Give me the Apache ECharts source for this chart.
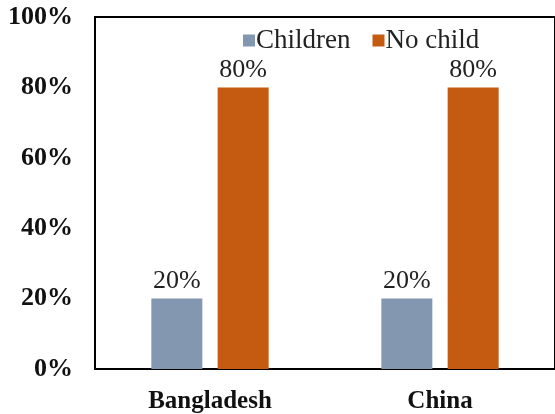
<!DOCTYPE html>
<html>
<head>
<meta charset="utf-8">
<script src="https://cdn.jsdelivr.net/npm/echarts@6/dist/echarts.min.js"></script>
<style>html,body{margin:0;padding:0;background:#fff}#c{width:555px;height:414px}</style>
</head>
<body>
<div id="c"></div>
<script>
const categories = ['Bangladesh', 'China'];
const seriesNames = ['Children', 'No child'];
const childrenValues = [0.2, 0.2];
const noChildValues = [0.8, 0.8];
const yTicks = [0, 0.2, 0.4, 0.6, 0.8, 1.0];

const serif = 'Liberation Serif';
const pct = v => Math.round(v * 100) + '%';

const chart = echarts.init(document.getElementById('c'));
chart.setOption({
  animation: false,
  backgroundColor: '#fff',
  textStyle: { fontFamily: serif },
  grid: { left: 95, right: -4, top: 17, bottom: 45, show: true, borderColor: '#000', borderWidth: 2, backgroundColor: 'transparent' },
  legend: {
    data: seriesNames,
    left: 238, top: 22,
    itemWidth: 12, itemHeight: 12, itemGap: 22,
    icon: 'rect',
    textStyle: { fontFamily: serif, fontSize: 27, color: '#222', padding: [0, 0, 0, -4] }
  },
  xAxis: {
    type: 'category',
    data: categories,
    axisLine: { lineStyle: { color: '#000', width: 2 } },
    axisTick: { show: false },
    axisLabel: { fontFamily: serif, fontWeight: 'bold', fontSize: 25, color: '#111', margin: 20 }
  },
  yAxis: {
    type: 'value', min: 0, max: 1, interval: 0.2,
    axisLine: { show: true, lineStyle: { color: '#000', width: 2 } },
    axisTick: { show: false },
    splitLine: { show: false },
    axisLabel: { fontFamily: serif, fontWeight: 'bold', fontSize: 26, color: '#111', margin: 22,
      formatter: v => yTicks.some(t => Math.abs(t - v) < 1e-9) ? pct(v) : '' }
  },
  series: [
    { name: seriesNames[0], type: 'bar', data: childrenValues, barWidth: 51, barGap: '30%',
      itemStyle: { color: '#8497B0' },
      label: { show: true, position: 'top', distance: 4, fontFamily: serif, fontSize: 26, color: '#222', formatter: p => pct(p.value) } },
    { name: seriesNames[1], type: 'bar', data: noChildValues, barWidth: 51, barGap: '30%',
      itemStyle: { color: '#C55A11' },
      label: { show: true, position: 'top', distance: 4, fontFamily: serif, fontSize: 26, color: '#222', formatter: p => pct(p.value) } }
  ]
});
</script>
</body>
</html>
